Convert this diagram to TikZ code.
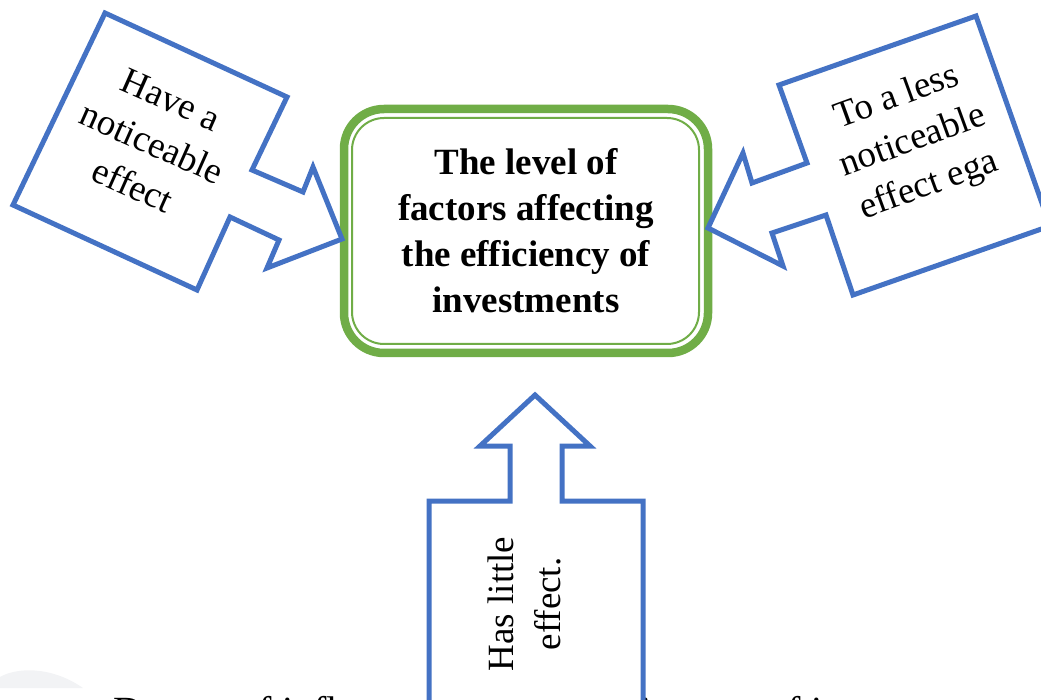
\documentclass[tikz,border=0pt]{standalone}
\usepackage{fontspec}
\setmainfont{Liberation Serif}
\definecolor{cblue}{HTML}{4472C4}
\definecolor{cgreen}{HTML}{70AD47}
\definecolor{hump}{HTML}{F2F3F5}
\tikzset{
  lbl/.style={font=\fontsize{37}{47}\selectfont, align=center, inner sep=0pt},
  callout/.style={draw=cblue, line width=5pt, fill=white, line join=miter},
  mainbox/.style={draw=cgreen, line width=8.5pt, rounded corners=40pt, fill=white,
    minimum width=364pt, minimum height=244pt, align=center, inner sep=0pt,
    font=\fontsize{37}{46}\selectfont\bfseries},
}
\begin{document}
\begin{tikzpicture}[x=1pt, y=-1pt]
\useasboundingbox (0,0) rectangle (1041,700);
\clip (0,0) rectangle (1041,700);
% caption partly hidden
\fill[hump] (0,688) -- (0,677) .. controls (15,668) and (50,665) .. (83,688) -- cycle;
\node[anchor=base west, inner sep=0pt, font=\fontsize{40}{48}\selectfont] (cap) at (113,724)
  {Degree of influence on the effectiveness of investments};
% central box
\node[mainbox] (main) at (526,231) {The level of\\factors affecting\\the efficiency of\\investments};
\draw[cgreen, line width=2pt, rounded corners=32pt] (352,118) rectangle (699,344);
% left callout
\draw[callout] (105,13) -- (287,97) -- (252,170) -- (303,192) -- (313,167) -- (342,239)
  -- (267,268) -- (279,240) -- (230,217) -- (197,290) -- (13,205) -- cycle;
\node[lbl, rotate=-24] (left) at (152,143) {Have a\\noticeable\\effect};
% right callout
\draw[callout] (779,85) -- (976,16) -- (1050,226) -- (853,295) -- (826,215) -- (772,233)
  -- (783,266) -- (708,228) -- (743,153) -- (752,183) -- (807,163) -- cycle;
\node[lbl, rotate=20] (right) at (913,142) {To a less\\noticeable\\effect ega};
% bottom callout
\draw[callout] (535,395) -- (590,446) -- (562,446) -- (562,501) -- (643,501) -- (643,720)
  -- (429,720) -- (429,501) -- (510,501) -- (510,446) -- (480,446) -- cycle;
\node[lbl, rotate=90] (bottom) at (524,604) {Has little\\effect.};
\end{tikzpicture}
\end{document}
